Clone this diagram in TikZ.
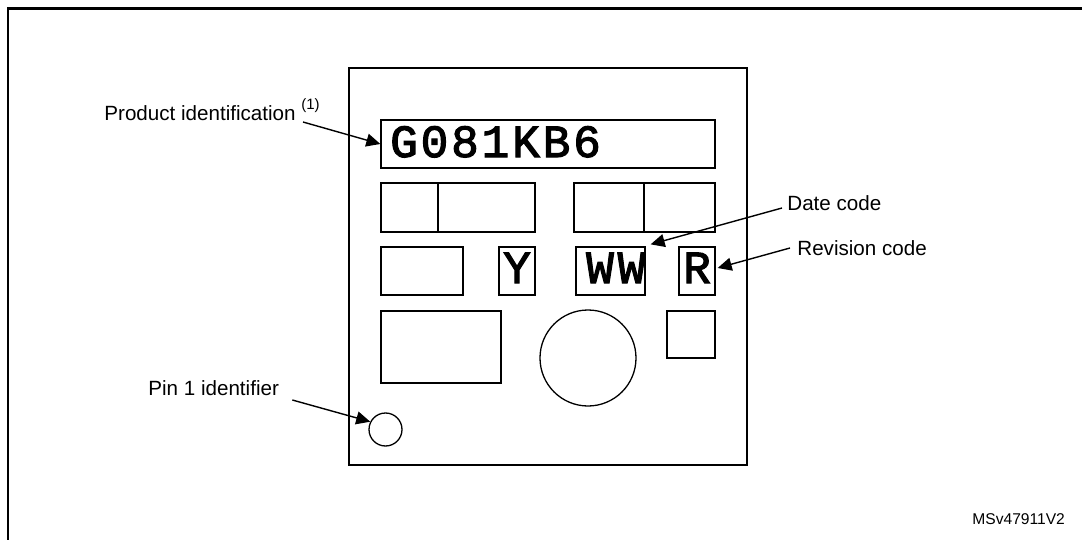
\documentclass[tikz,border=0pt]{standalone}
\usepackage{fontspec}
\setmainfont{Liberation Sans}
\newfontfamily\markfont[FakeBold=2.5]{Liberation Mono}
\usetikzlibrary{arrows.meta}

\begin{document}
\begin{tikzpicture}[x=0.5pt, y=-0.5pt,
  pkgbox/.style={rectangle, draw, line width=1.1pt, inner sep=0pt},
  cell/.style={rectangle, draw, line width=0.65pt, inner sep=0pt},
  ring/.style={circle, draw, line width=0.65pt, inner sep=0pt},
  lbl/.style={inner sep=0pt, anchor=base west, font=\fontsize{10.3}{12}\selectfont},
  glyph/.style={inner sep=0pt, anchor=base, font=\markfont\fontsize{23}{23}\selectfont},
  arr/.style={-{Triangle[length=7pt, width=6.5pt]}, line width=0.7pt}
]
\useasboundingbox (0,0) rectangle (1082,540);

% outer frame, open to the right and bottom
\draw[line width=1.4pt] (8,540) -- (8,8.5) -- (1082,8.5);

% package outline
\node[pkgbox, minimum width=199pt, minimum height=198.5pt] (pkg) at (548,266.5) {};

% marking line 1
\node[cell, minimum width=167pt, minimum height=24pt] (pid) at (548,144) {};
\foreach \ch [count=\i from 0] in {G,0,8,1,K,B,6}
  \node[glyph] (pid\i) at (404+30.5*\i,157) {\ch};

% marking line 2
\node[cell, minimum width=28.5pt, minimum height=24.5pt] (la) at (409.5,207.5) {};
\node[cell, minimum width=48.5pt, minimum height=24.5pt] (lb) at (486.5,207.5) {};
\node[cell, minimum width=35pt, minimum height=24.5pt] (ra) at (609,207.5) {};
\node[cell, minimum width=35.5pt, minimum height=24.5pt] (rb) at (679.5,207.5) {};

% marking line 3
\node[cell, minimum width=41pt, minimum height=24pt] (blank) at (422,271) {};
\node[cell, minimum width=18pt, minimum height=24pt] (ybox) at (517,271) {};
\node[cell, minimum width=34.5pt, minimum height=24pt] (ww) at (610.5,271) {};
\node[cell, minimum width=18pt, minimum height=24pt] (rbox) at (697,271) {};
\node[glyph] (yy) at (517,283) {Y};
\node[glyph] (w1) at (600,283) {W};
\node[glyph] (w2) at (631.5,283) {W};
\node[glyph] (rr) at (697,283) {R};

% marking line 4
\node[cell, minimum width=60pt, minimum height=36pt] (logo) at (441,347) {};
\node[ring, minimum size=48pt] (dimple) at (588,358) {};
\node[cell, minimum width=24pt, minimum height=23.5pt] (sq) at (691,334.5) {};

% pin 1 dot
\node[ring, minimum size=16.5pt] (pin1) at (385.5,429.5) {};

% labels
\node[lbl] (pidlbl) at (104,120) {Product identification \raisebox{5.5pt}{\fontsize{7.5}{8}\selectfont (1)}};
\node[lbl] (datelbl) at (787,211) {Date code};
\node[lbl] (revlbl) at (797,255) {Revision code};
\node[lbl] (pinlbl) at (148,395) {Pin 1 identifier};
\node[lbl, font=\fontsize{7.8}{9}\selectfont] (docid) at (972,524) {MSv47911V2};

% arrows
\draw[arr] ([shift={(199,2)}]pidlbl.base west) -- (pid.west);
\draw[arr] ([shift={(-5,-3)}]datelbl.base west) -- ([shift={(5,-2)}]ww.north east);
\draw[arr] ([shift={(-7,-7)}]revlbl.base west) -- ([shift={(2,-3)}]rbox.east);
\draw[arr] ([shift={(13,5)}]pinlbl.base east) -- (pin1.153);

\end{tikzpicture}
\end{document}
